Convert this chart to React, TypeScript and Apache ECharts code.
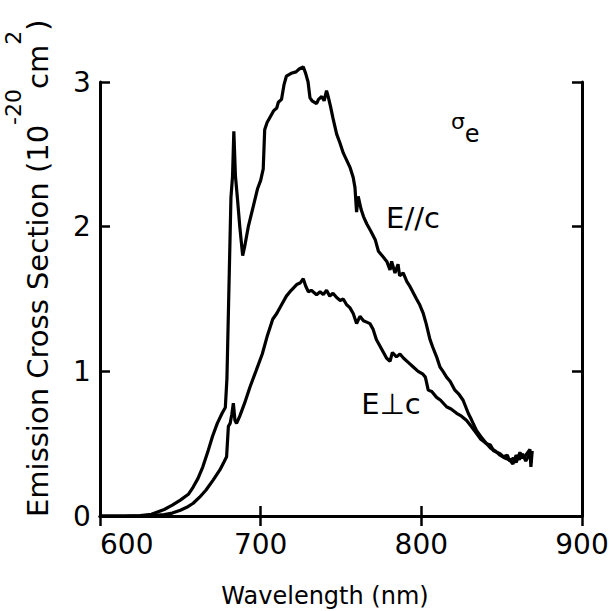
import React, { useEffect, useRef } from "react";
import * as echarts from "echarts";

// E // c emission cross section (10^-20 cm^2) vs wavelength (nm)
const parWavelength = [
  600, 615, 625, 632, 640, 645, 650, 655, 658, 661, 664, 667, 670, 673, 676, 678, 679, 680, 681.5, 682.5,
  683.3, 684.3, 685.5, 687, 688.8, 690, 692.3, 695.4, 698, 700, 701.6, 702.5, 704, 706, 708, 710, 711, 713,
  714.5, 716, 719, 722, 724, 726.5, 728, 729.5, 730.7, 732, 734.8, 736, 738, 739.5, 741, 742, 743.5, 745,
  747.3, 749.3, 751.4, 753.5, 755.6, 757.6, 758.7, 759.7, 760.7, 762.5, 764, 766, 768.5, 771.3, 773.3,
  776.3, 778.5, 780.5, 781.5, 783.6, 785.5, 786.5, 788.7, 791, 793, 797, 799, 801.2, 803, 805.4, 807,
  809.5, 811.6, 813.5, 815.7, 818, 820.9, 823.5, 826, 829.2, 831, 834.4, 837, 840.6, 843, 845, 849, 851,
  853.5, 855, 857.2, 859, 861.4, 863, 865, 867.6, 868.2, 869,
];
const parValue = [
  0, 0, 0.003, 0.012, 0.045, 0.075, 0.11, 0.15, 0.2, 0.26, 0.34, 0.44, 0.55, 0.64, 0.71, 0.75, 0.95, 1.45, 2.2, 2.35,
  2.66, 2.35, 2.2, 2.0, 1.8, 1.86, 2.0, 2.14, 2.26, 2.32, 2.4, 2.67, 2.72, 2.76, 2.8, 2.82, 2.86, 2.88,
  2.98, 3.04, 3.06, 3.07, 3.09, 3.105, 3.06, 3.0, 2.89, 2.87, 2.85, 2.88, 2.9, 2.87, 2.94, 2.9, 2.83, 2.75,
  2.64, 2.58, 2.51, 2.46, 2.41, 2.34, 2.27, 2.1, 2.21, 2.12, 2.07, 2.02, 1.97, 1.91, 1.83,
  1.79, 1.76, 1.7, 1.76, 1.68, 1.74, 1.66, 1.68, 1.62, 1.585, 1.5, 1.46, 1.4, 1.33, 1.22, 1.17,
  1.1, 1.03, 1.0, 0.96, 0.93, 0.87, 0.84, 0.8, 0.71, 0.67, 0.59, 0.55, 0.5, 0.49, 0.45, 0.43, 0.41,
  0.42, 0.38, 0.4, 0.37, 0.44, 0.4, 0.42, 0.46, 0.34, 0.45,
];

// E ⊥ c
const perpWavelength = [
  600, 630, 640, 645, 650, 654, 658, 662, 666, 670.5, 674.7, 677, 678.8, 679.9, 681, 682, 683, 684, 685, 687,
  690, 693.3, 697, 701, 704, 707.5, 710, 713, 716, 719, 722.4, 724.5, 726.5, 728, 729.7, 731.5, 734.8, 737,
  739, 741, 743, 745, 747.3, 749.5, 751.4, 753.5, 755.5, 757.6, 759.7, 761.8, 764, 766, 768, 770, 772, 775,
  778.4, 780.5, 782, 784.5, 786.7, 789, 792, 795, 798, 801, 802.5, 804.3, 806.5, 809.5, 812, 815.7, 818.5,
  822, 825, 828.2, 831, 834.4, 837, 840.6, 843, 846, 849, 852, 855, 857, 859, 861, 863, 865, 867.6, 868.5,
];
const perpValue = [
  0, 0.001, 0.01, 0.02, 0.04, 0.06, 0.088, 0.13, 0.18, 0.25, 0.32, 0.37, 0.41, 0.62, 0.64, 0.7, 0.78, 0.66, 0.64, 0.69,
  0.78, 0.89, 1.0, 1.12, 1.24, 1.36, 1.4, 1.46, 1.52, 1.56, 1.6, 1.61, 1.64, 1.59, 1.55, 1.56, 1.53, 1.55,
  1.53, 1.56, 1.52, 1.54, 1.51, 1.49, 1.5, 1.46, 1.44, 1.4, 1.33, 1.38, 1.35, 1.34, 1.33, 1.29, 1.22, 1.16,
  1.09, 1.07, 1.13, 1.1, 1.12, 1.09, 1.06, 1.03, 1.0, 0.98, 0.96, 0.87, 0.86, 0.82, 0.8, 0.755, 0.74,
  0.71, 0.69, 0.66, 0.62, 0.57, 0.53, 0.5, 0.47, 0.45, 0.42, 0.4, 0.387, 0.36, 0.42, 0.39, 0.43, 0.38, 0.43, 0.37,
];

const xTicks = [600, 700, 800, 900];
const yTicks = [0, 1, 2, 3];

const FONT = "DejaVu Sans";

export default function App() {
  const ref = useRef<HTMLDivElement>(null);
  useEffect(() => {
    if (!ref.current) return;
    const chart = echarts.init(ref.current, null, { renderer: "svg" });
    const zip = (xs: number[], ys: number[]) => xs.map((x, i) => [x, ys[i]]);
    const axisLine = { show: true, lineStyle: { color: "#000", width: 3 } };
    const tick = { show: true, inside: true, length: 10, lineStyle: { color: "#000", width: 2.5 } };
    const xMin = xTicks[0], xMax = xTicks[xTicks.length - 1];
    const yMin = yTicks[0], yMax = yTicks[yTicks.length - 1];
    chart.setOption({
      animation: false,
      backgroundColor: "#fff",
      grid: { left: 100, right: 31, top: 82, bottom: 95 },
      xAxis: [
        {
          type: "value", min: xMin, max: xMax, interval: 100, position: "bottom",
          axisLine, axisTick: tick, splitLine: { show: false },
          axisLabel: { fontFamily: FONT, fontSize: 28, color: "#000", margin: 14, alignMinLabel: "left" },
        },
        {
          type: "value", min: xMin, max: xMax, interval: 100, position: "top",
          axisLine, axisTick: tick, splitLine: { show: false }, axisLabel: { show: false },
        },
      ],
      yAxis: [
        {
          type: "value", min: yMin, max: yMax, interval: 1, position: "left",
          axisLine, axisTick: tick, splitLine: { show: false },
          axisLabel: { fontFamily: FONT, fontSize: 28, color: "#000", margin: 18, align: "center" },
        },
        {
          type: "value", min: yMin, max: yMax, interval: 1, position: "right",
          axisLine, axisTick: tick, splitLine: { show: false }, axisLabel: { show: false },
        },
      ],
      series: [
        {
          name: "E//c", type: "line", showSymbol: false, clip: false, data: zip(parWavelength, parValue),
          lineStyle: { color: "#000", width: 3.2 }, itemStyle: { color: "#000" },
        },
        {
          name: "E⊥c", type: "line", showSymbol: false, clip: false, data: zip(perpWavelength, perpValue),
          lineStyle: { color: "#000", width: 3.2 }, itemStyle: { color: "#000" },
        },
      ],
      graphic: [
        {
          type: "text", x: 325, y: 596,
          style: { text: "Wavelength (nm)", fontFamily: FONT, fontSize: 24, fill: "#000", align: "center", verticalAlign: "middle" },
        },
        {
          type: "text", x: 27, y: 517, rotation: Math.PI / 2,
          style: {
            text: "{m|Emission Cross Section (10}{s|-20}{m|cm}{s|2}{m|)}",
            fontFamily: FONT, fill: "#000", align: "left", verticalAlign: "middle",
            rich: {
              m: { fontFamily: FONT, fontSize: 29, height: 29, lineHeight: 50, verticalAlign: "bottom", fill: "#000" },
              s: { fontFamily: FONT, fontSize: 22, height: 22, lineHeight: 50, verticalAlign: "top", fill: "#000" },
            },
          },
        },
        {
          type: "text", x: 458, y: 121,
          style: { text: "σ", fontFamily: FONT, fontSize: 22, fill: "#000", align: "center", verticalAlign: "middle" },
        },
        {
          type: "text", x: 472, y: 134,
          style: { text: "e", fontFamily: FONT, fontSize: 24, fill: "#000", align: "center", verticalAlign: "middle" },
        },
        {
          type: "text", x: 413, y: 218,
          style: { text: "E//c", fontFamily: FONT, fontSize: 29, fill: "#000", align: "center", verticalAlign: "middle" },
        },
        {
          type: "text", x: 391, y: 404,
          style: { text: "E⊥c", fontFamily: FONT, fontSize: 29, fill: "#000", align: "center", verticalAlign: "middle" },
        },
      ],
    });
    return () => chart.dispose();
  }, []);
  return <div ref={ref} style={{ width: 613, height: 611, position: "absolute", left: 0, top: 0 }} />;
}
